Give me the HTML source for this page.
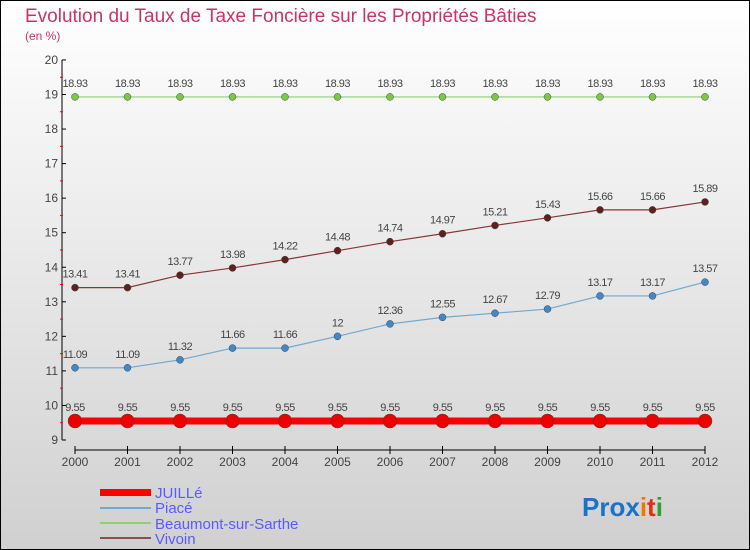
<!DOCTYPE html>
<html><head><meta charset="utf-8"><style>
body{margin:0;width:750px;height:550px;overflow:hidden;font-family:"Liberation Sans",sans-serif}
#wrap{position:absolute;left:0;top:0;width:748px;height:548px;border:1px solid #000;background:linear-gradient(#ffffff,#d0d0d0)}
</style></head><body>
<div id="wrap">
<svg id="chart" width="750" height="550" style="position:absolute;left:-1px;top:-1px">
<text x="25" y="22" font-size="19" fill="#c8346a">Evolution du Taux de Taxe Foncière sur les Propriétés Bâties</text>
<text x="25" y="40" font-size="12" fill="#c8346a">(en %)</text>
<g id="axes"></g><g id="series"></g>
<g>
<rect x="100" y="489" width="51" height="7" fill="#f00"/>
<text x="155" y="498" font-size="15" fill="#5a5aff">JUILLé</text>
<rect x="100" y="507" width="51" height="2" fill="#6fa8d0"/>
<text x="155" y="513" font-size="15" fill="#5a5aff">Piacé</text>
<rect x="100" y="522" width="51" height="2" fill="#8fd070"/>
<text x="155" y="529" font-size="15" fill="#5a5aff">Beaumont-sur-Sarthe</text>
<rect x="100" y="537" width="51" height="2" fill="#8a5050"/>
<text x="155" y="544" font-size="15" fill="#5a5aff">Vivoin</text>
</g>
<g font-size="26" font-weight="bold">
<text x="582" y="516"><tspan fill="#1a73c8">Pro</tspan><tspan fill="#1a73c8">x</tspan><tspan fill="#f07800">i</tspan><tspan fill="#e03010">t</tspan><tspan fill="#30a030">i</tspan></text>
</g>
</svg>
</div>
<script>
const years=[2000,2001,2002,2003,2004,2005,2006,2007,2008,2009,2010,2011,2012];
const yTicks=[9,10,11,12,13,14,15,16,17,18,19,20];
const juille=[9.55,9.55,9.55,9.55,9.55,9.55,9.55,9.55,9.55,9.55,9.55,9.55,9.55];
const piace=[11.09,11.09,11.32,11.66,11.66,12,12.36,12.55,12.67,12.79,13.17,13.17,13.57];
const beaumont=[18.93,18.93,18.93,18.93,18.93,18.93,18.93,18.93,18.93,18.93,18.93,18.93,18.93];
const vivoin=[13.41,13.41,13.77,13.98,14.22,14.48,14.74,14.97,15.21,15.43,15.66,15.66,15.89];
const NS="http://www.w3.org/2000/svg";
const X=v=>75+(v-2000)*52.5, Y=v=>440-(v-9)*34.55;
function mk(t,a,p){const e=document.createElementNS(NS,t);for(const k in a)e.setAttribute(k,a[k]);p.appendChild(e);return e;}
const ax=document.getElementById('axes');
let l=mk('line',{x1:62,y1:60,x2:62,y2:440,stroke:'#000'},ax);


l=mk('line',{x1:75,y1:450,x2:705,y2:450,stroke:'#000'},ax);


yTicks.forEach(v=>{
 mk('line',{x1:62,y1:Y(v),x2:66,y2:Y(v),stroke:'#000'},ax);
 if(v<20)mk('line',{x1:60,y1:Y(v+0.5),x2:63,y2:Y(v+0.5),stroke:'#f00'},ax);
 const t=mk('text',{x:58,y:Y(v)+4,'font-size':12,fill:'#444','text-anchor':'end'},ax);t.textContent=v;
 
 
});
years.forEach(y=>{
 mk('line',{x1:X(y),y1:446,x2:X(y),y2:454,stroke:'#000'},ax);
 const t=mk('text',{x:X(y),y:466,'font-size':12,fill:'#444','text-anchor':'middle'},ax);t.textContent=y;
 
 
});
const sg=document.getElementById('series');
function series(vals,color,dot,lw,r,name){
 const g=mk('g',{},sg);
 
 
 const p=mk('polyline',{points:vals.map((v,i)=>X(years[i])+','+Y(v)).join(' '),fill:'none',stroke:color,'stroke-width':lw},g);
 vals.forEach((v,i)=>{
  const c=mk('circle',{cx:X(years[i]),cy:Y(v),r:r,fill:dot,stroke:'#444','stroke-width':0.5},g);
  
  
  const t=mk('text',{x:X(years[i]),y:Y(v)-10,'font-size':11,fill:'#444','text-anchor':'middle','letter-spacing':'-0.5'},g);
  t.textContent=v;
  
  
 });
}
series(beaumont,'#8fd070','#7cc840',1.2,3.5,'beaumont');
series(vivoin,'#8a3535','#602020',1.2,3.5,'vivoin');
series(piace,'#6fa8d0','#4088c8',1.2,3.5,'piace');
series(juille,'#f00','#e00',7,7,'juille');
</script>
</body></html>
